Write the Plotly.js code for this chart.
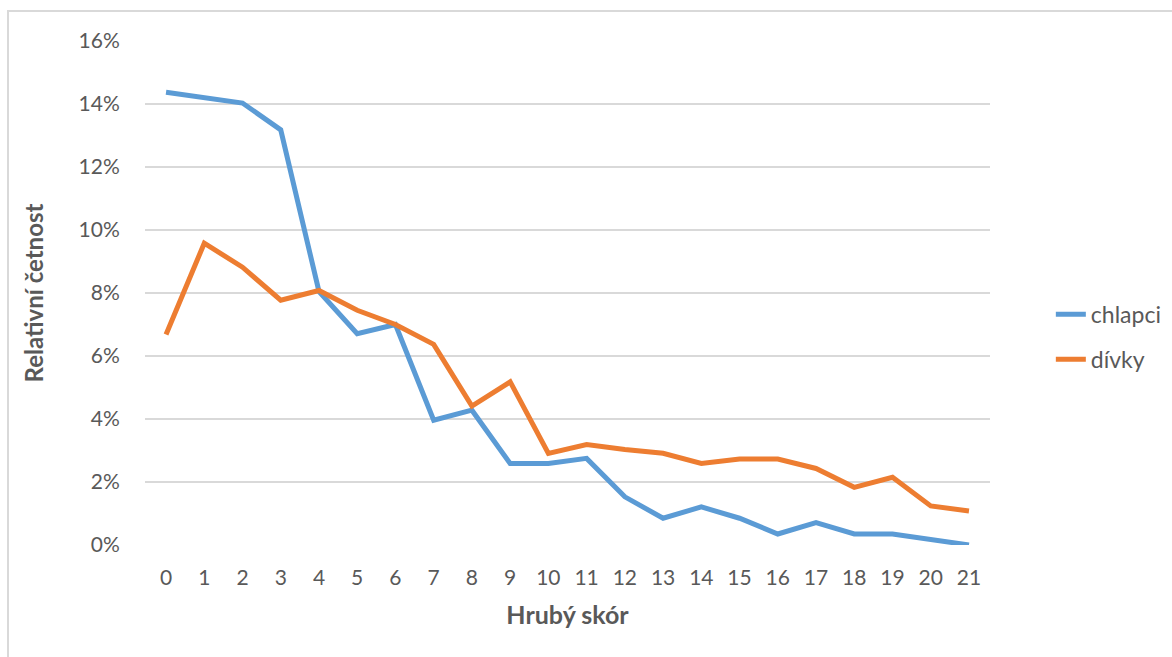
<!DOCTYPE html>
<html>
<head>
<meta charset="utf-8">
<script src="https://cdn.plot.ly/plotly-3.0.1.min.js"></script>
<style>
  html, body { margin: 0; padding: 0; background: #fff; }
  #chart { position: absolute; left: 0; top: 0; width: 1172px; height: 657px; }
  #frame { position: absolute; left: 7px; top: 10px; width: 1200px; height: 700px;
           border-left: 2px solid #d9d9d9; border-top: 2px solid #d9d9d9; pointer-events: none; }
</style>
</head>
<body>
<div id="chart"></div>
<div id="frame"></div>
<script>
// raw score categories 0..21
const scores = [0, 1, 2, 3, 4, 5, 6, 7, 8, 9, 10, 11, 12, 13, 14, 15, 16, 17, 18, 19, 20, 21];

// relative frequency (fraction)
const chlapci = [0.1437, 0.1420, 0.1403, 0.1318, 0.0805, 0.0671, 0.0700, 0.0396, 0.0428, 0.0259,
                 0.0259, 0.0275, 0.0153, 0.0085, 0.0121, 0.0085, 0.0035, 0.0071, 0.0035, 0.0035,
                 0.0018, 0.0000];
const divky = [0.0668, 0.0958, 0.0882, 0.0777, 0.0808, 0.0745, 0.0700, 0.0637, 0.0441, 0.0518,
               0.0291, 0.0319, 0.0303, 0.0291, 0.0259, 0.0273, 0.0273, 0.0243, 0.0183, 0.0215,
               0.0124, 0.0108];

const yTicks = [0, 0.02, 0.04, 0.06, 0.08, 0.10, 0.12, 0.14, 0.16];

const fontFam = 'Lato, "Open Sans", sans-serif';
const grey = '#595959';

const data = [
  {
    x: scores, y: chlapci, name: 'chlapci', type: 'scatter', mode: 'lines',
    legendgroup: 'a',
    line: { color: '#5b9bd5', width: 5 }
  },
  {
    x: scores, y: divky, name: 'dívky', type: 'scatter', mode: 'lines',
    legendgroup: 'b',
    line: { color: '#ed7d31', width: 5 }
  }
];

const layout = {
  width: 1172,
  height: 657,
  margin: { l: 145, r: 182, t: 41, b: 112, autoexpand: false },
  paper_bgcolor: 'rgba(0,0,0,0)',
  plot_bgcolor: '#fff',
  font: { family: fontFam, color: grey, size: 20 },
  showlegend: true,
  legend: {
    x: 1.072, xanchor: 'left', y: 0.413, yanchor: 'middle',
    font: { size: 23, color: grey },
    tracegroupgap: 12,
    bgcolor: 'rgba(0,0,0,0)'
  },
  xaxis: {
    range: [-0.55, 21.55],
    tickmode: 'array',
    tickvals: scores,
    ticktext: scores.map(String),
    showgrid: false,
    zeroline: false,
    showline: false,
    ticks: 'outside', ticklen: 14, tickcolor: 'rgba(0,0,0,0)',
    tickfont: { size: 21, color: grey },
    title: { text: 'Hrubý skór', font: { size: 25, color: grey, weight: 'bold' }, standoff: 18 }
  },
  yaxis: {
    range: [0, 0.16],
    tickmode: 'array',
    tickvals: yTicks,
    tickformat: '.0%',
    showgrid: true,
    gridcolor: '#d9d9d9',
    gridwidth: 1.5,
    zeroline: false,
    showline: false,
    ticks: 'outside', ticklen: 20, tickcolor: 'rgba(0,0,0,0)',
    tickfont: { size: 21, color: grey },
    title: { text: 'Relativní četnost', font: { size: 24, color: grey, weight: 'bold' }, standoff: 28 }
  }
};

Plotly.newPlot('chart', data, layout, { displayModeBar: false, staticPlot: true });
</script>
</body>
</html>
